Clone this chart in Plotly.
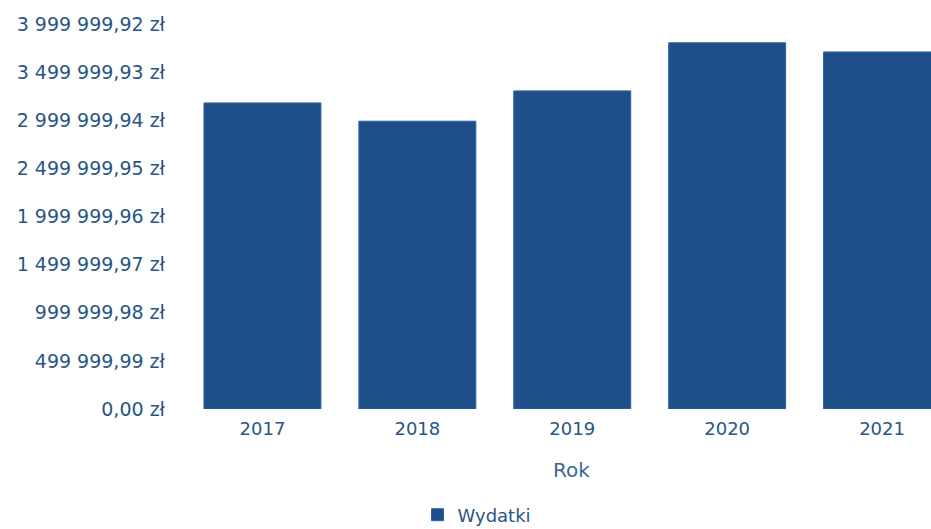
import plotly.graph_objects as go

years = ["2017", "2018", "2019", "2020", "2021"]
wydatki = [3180000, 2990000, 3305000, 3805000, 3710000]
y_tick_vals = [0, 499999.99, 999999.98, 1499999.97, 1999999.96, 2499999.95, 2999999.94, 3499999.93, 3999999.92]
y_tick_text = ["0,00 zł", "499 999,99 zł", "999 999,98 zł", "1 499 999,97 zł", "1 999 999,96 zł",
               "2 499 999,95 zł", "2 999 999,94 zł", "3 499 999,93 zł", "3 999 999,92 zł"]

W, H = 931, 529
font_color = "#2a5585"
bar_color = "#1f4f88"
fnt = "DejaVu Sans"

fig = go.Figure()
fig.add_trace(go.Bar(
    x=years, y=wydatki, name="Wydatki",
    marker=dict(color=bar_color, line=dict(color="#2c62a3", width=1)),
    width=0.755,
))

fig.update_layout(
    width=W, height=H,
    margin=dict(l=184.5, r=0, t=24, b=120, autoexpand=False),
    plot_bgcolor="white", paper_bgcolor="white",
    font=dict(family=fnt, size=19, color=font_color),
    showlegend=True,
    legend=dict(orientation="h", xref="container", yref="container",
                x=477 / W, y=1 - 515 / H, xanchor="center", yanchor="middle",
                font=dict(family=fnt, size=18, color=font_color), itemwidth=30),
    xaxis=dict(range=[-0.5, 4.316], showgrid=False, showline=False, zeroline=False,
               automargin=False, ticks="", ticklabelstandoff=7,
               tickfont=dict(family=fnt, size=18, color=font_color)),
    yaxis=dict(range=[0, 3999999.92], tickvals=y_tick_vals, ticktext=y_tick_text,
               showgrid=False, showline=False, zeroline=False, ticks="", automargin=False,
               ticklabelstandoff=19,
               tickfont=dict(family=fnt, size=19, color=font_color)),
    annotations=[dict(text="Rok", xref="paper", yref="paper", x=(571 - 184.5) / (W - 184.5),
                      y=0, yshift=-61, showarrow=False, xanchor="center", yanchor="middle",
                      font=dict(family=fnt, size=20, color="#3d6792"))],
)

fig.write_html("out.html", config={"displayModeBar": False},
               post_script="document.body.style.margin='0px';")
